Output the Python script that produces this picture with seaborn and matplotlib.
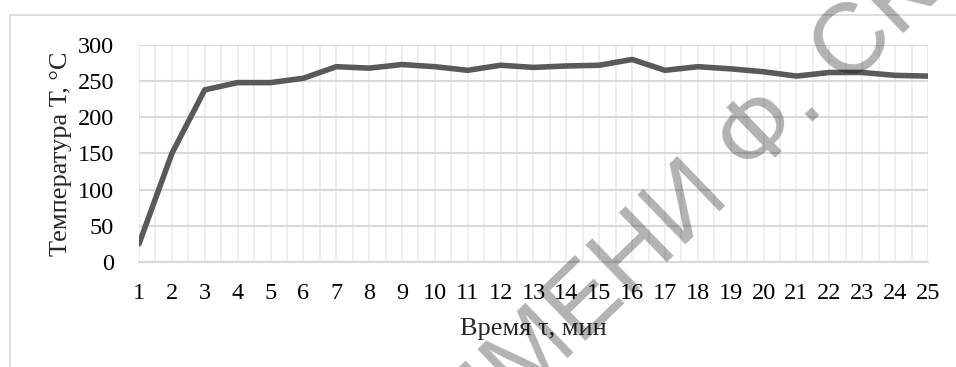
import numpy as np
import pandas as pd
import matplotlib
matplotlib.use('Agg')
import matplotlib.pyplot as plt
import seaborn as sns
from matplotlib.patches import Rectangle
from matplotlib.ticker import MultipleLocator

# ── Data ─────────────────────────────────────────────────────
minutes = list(range(1, 26))
temperature = [25, 150, 238, 248, 248, 254, 270, 268, 273, 270,
               265, 272, 269, 271, 272, 280, 265, 270, 267, 263,
               257, 262, 262, 258, 257]

x_label = 'Время τ, мин'
y_label = 'Температура Т, °С'
watermark = 'ИМЕНИ Ф. СКОРИНЫ'

# ── Style ────────────────────────────────────────────────────
sns.set_theme(style='white')
plt.rcParams['font.family'] = ['Liberation Serif', 'DejaVu Serif']

fig = plt.figure(figsize=(9.56, 3.67), dpi=100)
ax = fig.add_axes([0.1454, 0.2861, 0.8253, 0.5913])

df = pd.DataFrame({'t': minutes, 'T': temperature})
sns.lineplot(data=df, x='t', y='T', ax=ax, color='#595959', linewidth=4,
             solid_joinstyle='round', zorder=3)

ax.set_xlim(1, 25)
ax.set_ylim(0, 300)
ax.set_xticks(minutes)
ax.xaxis.set_minor_locator(MultipleLocator(0.5))
ax.yaxis.set_major_locator(MultipleLocator(50))

ax.grid(True, which='major', axis='y', color='#d9d9d9', linewidth=1.5)
ax.grid(True, which='both', axis='x', color='#ebebeb', linewidth=1.2)
ax.tick_params(axis='both', which='both', length=0, labelsize=17.5,
               colors='#000000')
ax.tick_params(axis='x', pad=15)
ax.tick_params(axis='y', pad=18)

for side in ['left', 'right', 'top']:
    ax.spines[side].set_visible(False)
ax.spines['bottom'].set_color('#d9d9d9')
ax.spines['bottom'].set_linewidth(1.5)

ax.set_xlabel(x_label, fontsize=19, labelpad=10)
ax.set_ylabel(y_label, fontsize=19, labelpad=4)

# outer chart frame
fig.patches.append(Rectangle((10 / 956, -0.1), 1.2, (352 / 367) + 0.1,
                             transform=fig.transFigure, fill=False,
                             edgecolor='#d9d9d9', linewidth=1.2))

# watermark (cut by the figure edges, as in the reference)
fig.text(0.490, -0.237, watermark, transform=fig.transFigure,
         rotation=44, rotation_mode='anchor', ha='left', va='baseline',
         fontsize=72, family='Liberation Sans',
         color='black', alpha=0.3, zorder=10)

fig.savefig('out.png', dpi=100)
plt.close(fig)
